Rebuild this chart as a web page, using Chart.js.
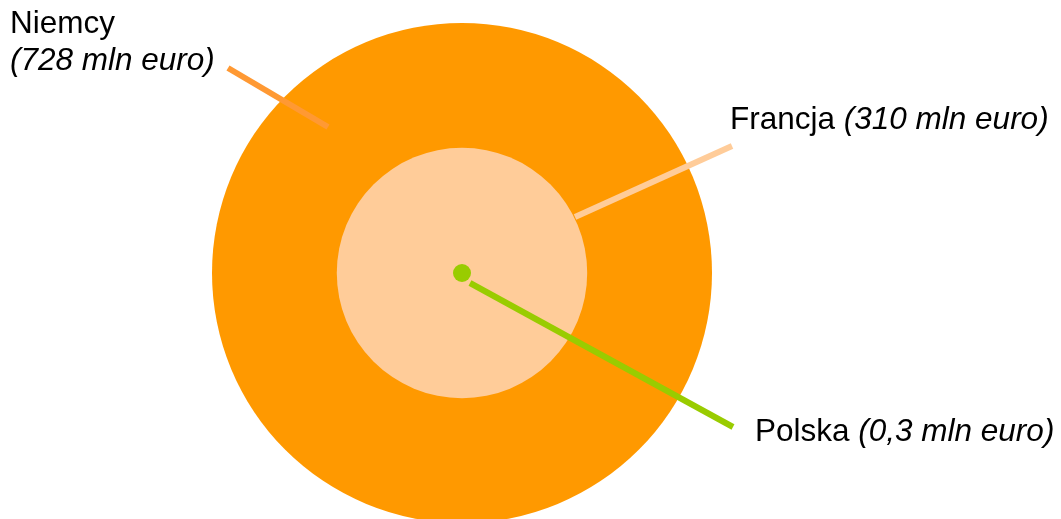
<!DOCTYPE html>
<html>
<head>
<meta charset="utf-8">
<script src="https://cdn.jsdelivr.net/npm/chart.js@4"></script>
<style>
  html, body { margin: 0; padding: 0; background: #fff; }
  #wrap { width: 1061px; height: 519px; }
</style>
</head>
<body>
<div id="wrap"><canvas id="fundsChart"></canvas></div>
<script>
const countries = ["Niemcy", "Francja", "Polska"];
const valuesMln = [728, 310, 0.3];
const valueLabels = ["(728 mln euro)", "(310 mln euro)", "(0,3 mln euro)"];
const colors = ["#ff9900", "#ffcc99", "#99cc00"];

// circle size grows with the amount, the smallest one stays visible as a dot
const radiusFor = (v) => Math.max(9, 250 * Math.pow(v / valuesMln[0], 0.81));

const labelsPlugin = {
  id: "leaderLabels",
  afterDatasetsDraw(chart) {
    const ctx = chart.ctx;
    const font = "31.5px 'Liberation Sans', Arial, sans-serif";
    const italic = "italic 31.5px 'Liberation Sans', Arial, sans-serif";
    ctx.save();
    ctx.lineCap = "butt";
    ctx.lineWidth = 6;

    // leader lines
    ctx.strokeStyle = "#ff9933";
    ctx.beginPath(); ctx.moveTo(228, 68); ctx.lineTo(328, 127); ctx.stroke();
    ctx.strokeStyle = "#ffcc99";
    ctx.beginPath(); ctx.moveTo(575, 217); ctx.lineTo(732, 146); ctx.stroke();
    ctx.strokeStyle = "#99cc00";
    ctx.beginPath(); ctx.moveTo(470, 283); ctx.lineTo(733, 427); ctx.stroke();

    ctx.fillStyle = "#000";
    ctx.textBaseline = "alphabetic";
    ctx.textAlign = "left";

    // Niemcy, two lines
    ctx.font = font;
    ctx.fillText(countries[0], 10, 33);
    ctx.font = italic;
    ctx.fillText(valueLabels[0], 10, 70);

    // Francja
    ctx.font = font;
    ctx.fillText(countries[1], 730, 129);
    let w = ctx.measureText(countries[1] + " ").width;
    ctx.font = italic;
    ctx.fillText(valueLabels[1], 730 + w, 129);

    // Polska
    ctx.font = font;
    ctx.fillText(countries[2], 755, 441);
    w = ctx.measureText(countries[2] + " ").width;
    ctx.font = italic;
    ctx.fillText(valueLabels[2], 755 + w, 441);

    ctx.restore();
  },
};

const fundsChart = document.getElementById("fundsChart");

new Chart(fundsChart, {
  type: "bubble",
  data: {
    labels: countries,
    datasets: [
      {
        data: valuesMln.map((v) => ({ x: 0, y: 0, r: radiusFor(v) })),
        backgroundColor: colors,
        borderWidth: 0,
        hoverRadius: 0,
        clip: false,
      },
    ],
  },
  options: {
    responsive: true,
    maintainAspectRatio: false,
    animation: false,
    events: [],
    layout: { padding: 0, autoPadding: false },
    // axes in pixel-like units so the rings sit off-centre like the original
    scales: {
      x: { display: false, min: -462, max: 599 },
      y: { display: false, min: -246, max: 273 },
    },
    plugins: {
      legend: { display: false },
      tooltip: { enabled: false },
      title: { display: false },
    },
  },
  plugins: [labelsPlugin],
});
</script>
</body>
</html>
